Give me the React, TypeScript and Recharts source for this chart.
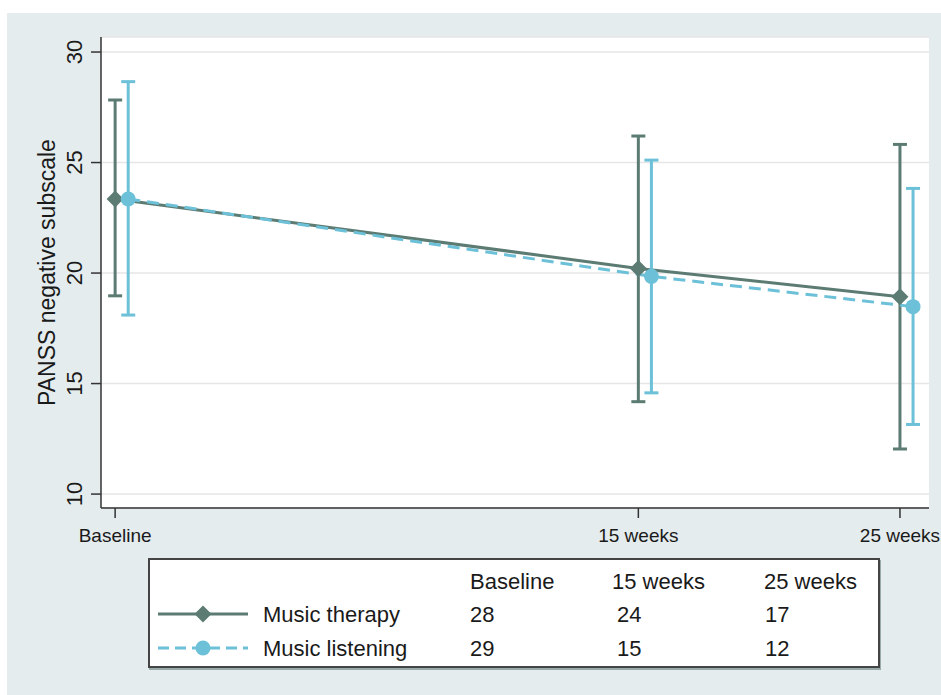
import React from 'react';
import { LineChart, Line, XAxis, YAxis, CartesianGrid, ErrorBar } from 'recharts';

const categories = ['Baseline', '15 weeks', '25 weeks'];
const timePoints = [0, 2, 3];
const therapyMean = [23.35, 20.21, 18.93];
const therapyLow = [18.97, 14.18, 12.04];
const therapyHigh = [27.83, 26.2, 25.82];
const listeningMean = [23.35, 19.85, 18.48];
const listeningLow = [18.1, 14.58, 13.15];
const listeningHigh = [28.66, 25.11, 23.83];
const therapyN = [28, 24, 17];
const listeningN = [29, 15, 12];
const yTicks = [10, 15, 20, 25, 30];
const seriesNames = ['Music therapy', 'Music listening'];

const GREEN = '#5c7b73';
const BLUE = '#6cc1d8';
const BG = '#e4ecee';
const FONT = "'Liberation Sans', Arial, Helvetica, sans-serif";
const TEXT = '#1a1a1a';

const data = timePoints.map((t, i) => ({
  t,
  therapy: therapyMean[i],
  therapyErr: [therapyMean[i] - therapyLow[i], therapyHigh[i] - therapyMean[i]],
  listening: listeningMean[i],
  listeningErr: [listeningMean[i] - listeningLow[i], listeningHigh[i] - listeningMean[i]],
}));

const XDOM: [number, number] = [-0.054, 3.111];
const SHIFT = 0.05;

const Diamond = (props: any) => {
  const { cx, cy, index } = props;
  if (cx == null || cy == null) return <g key={`d${index}`} />;
  const r = 8.5;
  return (
    <path
      key={`d${index}`}
      d={`M${cx},${cy - r}L${cx + r},${cy}L${cx},${cy + r}L${cx - r},${cy}Z`}
      fill={GREEN}
    />
  );
};

const Dot = (props: any) => {
  const { cx, cy, index } = props;
  if (cx == null || cy == null) return <g key={`c${index}`} />;
  return <circle key={`c${index}`} cx={cx} cy={cy} r={7.5} fill={BLUE} />;
};

const YTick = (props: any) => {
  const { x, y, payload } = props;
  const bx = x - 7;
  return (
    <text
      x={bx}
      y={y}
      transform={`rotate(-90, ${bx}, ${y})`}
      textAnchor="middle"
      fontSize={22}
      fontFamily={FONT}
      fill={TEXT}
    >
      {payload.value}
    </text>
  );
};

const XTick = (props: any) => {
  const { x, y, payload } = props;
  const idx = timePoints.indexOf(payload.value);
  return (
    <text x={x} y={y + 22} textAnchor="middle" fontSize={19} fontFamily={FONT} fill={TEXT}>
      {categories[idx]}
    </text>
  );
};

const LegendBox = () => {
  const W = 732;
  const H = 110;
  const rows = [23, 56, 90];
  const colX = [322, 464, 616];
  const numX = [322, 469, 617];
  return (
    <div
      style={{
        position: 'absolute',
        left: 148,
        top: 558,
        width: W,
        height: H,
        boxShadow: '1px 2px 0 #9aa',
      }}
    >
      <svg width={W} height={H} style={{ display: 'block' }}>
        <rect x={1} y={1} width={W - 2} height={H - 2} fill="#fff" stroke="#444" strokeWidth={2} />
        {categories.map((c, i) => (
          <text key={c} x={colX[i]} y={rows[0]} dominantBaseline="central" fontSize={22} fontFamily={FONT} fill={TEXT}>
            {c}
          </text>
        ))}
        <line x1={10} x2={100} y1={rows[1]} y2={rows[1]} stroke={GREEN} strokeWidth={3} />
        <path d={`M55,${rows[1] - 8.5}L63.5,${rows[1]}L55,${rows[1] + 8.5}L46.5,${rows[1]}Z`} fill={GREEN} />
        <line x1={10} x2={100} y1={rows[2]} y2={rows[2]} stroke={BLUE} strokeWidth={3} strokeDasharray="11 6" />
        <circle cx={55} cy={rows[2]} r={7.5} fill={BLUE} />
        <text x={115} y={rows[1]} dominantBaseline="central" fontSize={22} fontFamily={FONT} fill={TEXT}>
          {seriesNames[0]}
        </text>
        <text x={115} y={rows[2]} dominantBaseline="central" fontSize={22} fontFamily={FONT} fill={TEXT}>
          {seriesNames[1]}
        </text>
        {therapyN.map((n, i) => (
          <text key={`tn${i}`} x={numX[i]} y={rows[1]} dominantBaseline="central" fontSize={22} fontFamily={FONT} fill={TEXT}>
            {n}
          </text>
        ))}
        {listeningN.map((n, i) => (
          <text key={`ln${i}`} x={numX[i]} y={rows[2]} dominantBaseline="central" fontSize={22} fontFamily={FONT} fill={TEXT}>
            {n}
          </text>
        ))}
      </svg>
    </div>
  );
};

export default function App() {
  return (
    <div
      style={{
        position: 'absolute',
        left: 0,
        top: 0,
        width: 941,
        height: 695,
        background: '#fff',
        overflow: 'hidden',
        fontFamily: FONT,
      }}
    >
      <div style={{ position: 'absolute', left: 7, top: 13, right: 0, bottom: 0, background: BG }} />
      <div style={{ position: 'absolute', left: 0, top: 0 }}>
        <LineChart width={941} height={695} data={data} margin={{ top: 37, right: 12, bottom: 147, left: 0 }}>
          <CartesianGrid
            xAxisId="main"
            vertical={false}
            fill="#ffffff"
            stroke="#e6e6e6"
            strokeWidth={1.5}
          />
          <XAxis
            xAxisId="main"
            dataKey="t"
            type="number"
            domain={XDOM}
            ticks={timePoints}
            allowDataOverflow
            height={40}
            tickSize={10}
            tickLine={{ stroke: '#333', strokeWidth: 1.5 }}
            axisLine={{ stroke: '#333', strokeWidth: 1.5 }}
            tick={<XTick />}
            interval={0}
          />
          <XAxis
            xAxisId="shift"
            dataKey="t"
            type="number"
            domain={[XDOM[0] - SHIFT, XDOM[1] - SHIFT]}
            allowDataOverflow
            hide
          />
          <YAxis
            width={101}
            type="number"
            domain={[9.37, 30.68]}
            ticks={yTicks}
            allowDataOverflow
            tickSize={10}
            tickLine={{ stroke: '#333', strokeWidth: 1.5 }}
            axisLine={{ stroke: '#333', strokeWidth: 1.5 }}
            tick={<YTick />}
            interval={0}
            label={{
              value: 'PANSS negative subscale',
              angle: -90,
              position: 'center',
              content: (p: any) => {
                const vb = p.viewBox || {};
                const cy = (vb.y ?? 37) + (vb.height ?? 471) / 2;
                const bx = 55;
                return (
                  <text
                    x={bx}
                    y={cy}
                    transform={`rotate(-90, ${bx}, ${cy})`}
                    textAnchor="middle"
                    fontSize={23}
                    fontFamily={FONT}
                    fill={TEXT}
                  >
                    PANSS negative subscale
                  </text>
                );
              },
            }}
          />
          <Line
            xAxisId="main"
            dataKey="therapy"
            stroke={GREEN}
            strokeWidth={3}
            dot={Diamond}
            activeDot={false}
            isAnimationActive={false}
          >
            <ErrorBar dataKey="therapyErr" direction="y" width={7} stroke={GREEN} strokeWidth={3} />
          </Line>
          <Line
            xAxisId="shift"
            dataKey="listening"
            stroke={BLUE}
            strokeWidth={3}
            strokeDasharray="12 7"
            dot={Dot}
            activeDot={false}
            isAnimationActive={false}
          >
            <ErrorBar dataKey="listeningErr" direction="y" width={7} stroke={BLUE} strokeWidth={3} />
          </Line>
        </LineChart>
      </div>
      <LegendBox />
    </div>
  );
}
